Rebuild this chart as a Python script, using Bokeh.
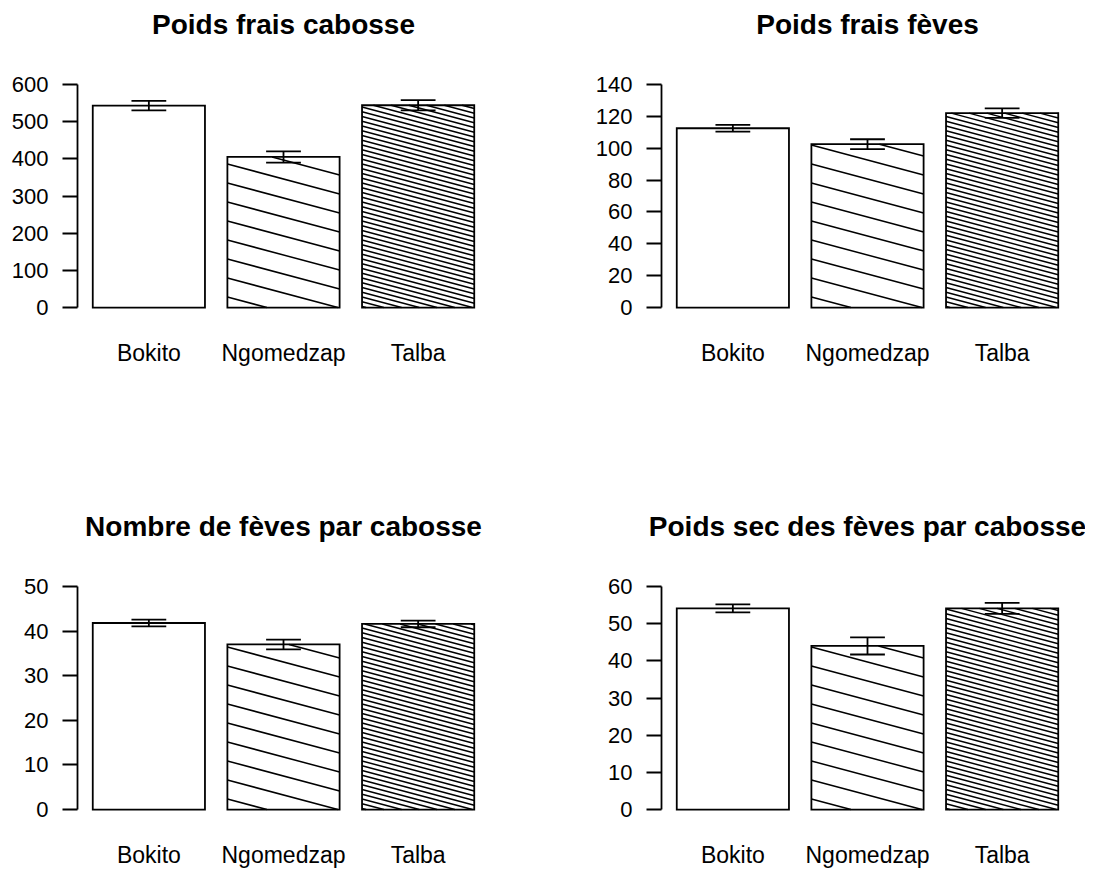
import math
from bokeh.plotting import figure
from bokeh.layouts import column, row
from bokeh.models import Range1d, FixedTicker, Title
from bokeh.embed import file_html
from bokeh.resources import INLINE

# ---------------- data ----------------
categories = ["Bokito", "Ngomedzap", "Talba"]

title_1 = "Poids frais cabosse"
poids_frais_cabosse = [543, 405, 544]
poids_frais_cabosse_se = [13, 15, 14]
ticks_1 = [0, 100, 200, 300, 400, 500, 600]

title_2 = "Poids frais fèves"
poids_frais_feves = [112.5, 102.5, 122.0]
poids_frais_feves_se = [2.1, 3.1, 3.0]
ticks_2 = [0, 20, 40, 60, 80, 100, 120, 140]

title_3 = "Nombre de fèves par cabosse"
nombre_feves = [41.8, 37.0, 41.6]
nombre_feves_se = [0.75, 1.1, 0.75]
ticks_3 = [0, 10, 20, 30, 40, 50]

title_4 = "Poids sec des fèves par cabosse"
poids_sec_feves = [54.1, 44.0, 54.1]
poids_sec_feves_se = [1.1, 2.3, 1.5]
ticks_4 = [0, 10, 20, 30, 40, 50, 60]

# ---------------- style ----------------
FONT = "Liberation Sans"
FRAME_W, FRAME_H = 412, 241
BAR_W, BAR_SPACE = 1.0, 0.2
LW = 1.8
HATCH_SLOPE = math.tan(math.radians(15))   # pixel slope of shading lines
HATCH_SPACING = [None, 19.0, 4.75]          # px between shading lines per bar
HATCH_OFFSET = 10.6                          # px phase above bar base
CAP_HALF = 0.155
SPACER_STANDOFF = 33                         # empty title pushing the real title up


def make_panel(title, values, se, ticks, b_left, b_right, b_top, b_bottom):
    n = len(values)
    xs = [BAR_SPACE + BAR_W / 2 + i * (BAR_W + BAR_SPACE) for i in range(n)]
    lo = BAR_SPACE
    hi = n * (BAR_W + BAR_SPACE)
    pad = 0.04 * (hi - lo)
    x0, x1 = lo - pad, hi + pad
    ymax = ticks[-1]
    y0, y1 = -0.04 * ymax, 1.04 * ymax

    p = figure(frame_width=FRAME_W, frame_height=FRAME_H,
               x_range=Range1d(x0, x1), y_range=Range1d(y0, y1),
               output_backend="svg", toolbar_location=None,
               min_border_left=b_left, min_border_right=b_right,
               min_border_top=b_top, min_border_bottom=b_bottom,
               background_fill_color="white", border_fill_color="white")
    p.outline_line_color = None
    p.xgrid.visible = False
    p.ygrid.visible = False
    p.title.text = ""
    p.title.standoff = 0
    p.title.text_font_size = "1px"

    p.add_layout(Title(text=" ", text_font_size="1px", standoff=SPACER_STANDOFF,
                       text_color="white"), "above")
    p.add_layout(Title(text=title, align="center", vertical_align="bottom", standoff=0,
                       text_font=FONT, text_font_size="28px", text_font_style="bold",
                       text_color="black"), "above")

    lefts = [x - BAR_W / 2 for x in xs]
    rights = [x + BAR_W / 2 for x in xs]
    p.quad(left=lefts, right=rights, bottom=[0] * n, top=values,
           fill_color="white", line_color=None)

    # shading lines computed in pixel space then mapped to data units
    sx = FRAME_W / (x1 - x0)
    sy = FRAME_H / (y1 - y0)
    m = HATCH_SLOPE * sx / sy
    hx0, hy0, hx1, hy1 = [], [], [], []
    for i in range(n):
        sp = HATCH_SPACING[i]
        if sp is None:
            continue
        xl, xr, h = lefts[i], rights[i], values[i]
        off = HATCH_OFFSET % sp
        k = 0
        while True:
            c = (off + k * sp) / sy
            if c - m * (xr - xl) > h:
                break
            xa = max(xl, xl + (c - h) / m)
            xb = min(xr, xl + c / m)
            if xb > xa:
                hx0.append(xa); hy0.append(c - m * (xa - xl))
                hx1.append(xb); hy1.append(c - m * (xb - xl))
            k += 1
    p.segment(x0=hx0, y0=hy0, x1=hx1, y1=hy1, line_color="black", line_width=1.5)

    p.quad(left=lefts, right=rights, bottom=[0] * n, top=values,
           fill_color=None, line_color="black", line_width=LW, line_join="miter")

    # error bars
    up = [v + e for v, e in zip(values, se)]
    dn = [v - e for v, e in zip(values, se)]
    p.segment(x0=xs, y0=dn, x1=xs, y1=up, line_color="black", line_width=LW)
    p.segment(x0=[x - CAP_HALF for x in xs], y0=up, x1=[x + CAP_HALF for x in xs], y1=up,
              line_color="black", line_width=LW)
    p.segment(x0=[x - CAP_HALF for x in xs], y0=dn, x1=[x + CAP_HALF for x in xs], y1=dn,
              line_color="black", line_width=LW)

    # x axis: labels only
    p.xaxis.ticker = FixedTicker(ticks=xs)
    p.xaxis.major_label_overrides = {x: c for x, c in zip(xs, categories)}
    p.xaxis.axis_line_color = None
    p.xaxis.major_tick_line_color = None
    p.xaxis.minor_tick_line_color = None
    p.xaxis.major_tick_out = 0
    p.xaxis.major_tick_in = 0
    p.xaxis.major_label_standoff = 23
    p.xaxis.major_label_text_font = FONT
    p.xaxis.major_label_text_font_size = "23px"
    p.xaxis.major_label_text_color = "black"

    # y axis
    p.yaxis.ticker = FixedTicker(ticks=ticks)
    p.yaxis.bounds = (0, ymax)
    p.yaxis.axis_line_width = LW
    p.yaxis.axis_line_color = "black"
    p.yaxis.major_tick_line_width = LW
    p.yaxis.major_tick_line_color = "black"
    p.yaxis.minor_tick_line_color = None
    p.yaxis.major_tick_out = 15
    p.yaxis.major_tick_in = 0
    p.yaxis.major_label_standoff = 14
    p.yaxis.major_label_text_font = FONT
    p.yaxis.major_label_text_font_size = "22px"
    p.yaxis.major_label_text_color = "black"
    return p


pA = make_panel(title_1, poids_frais_cabosse, poids_frais_cabosse_se, ticks_1, 77, 65, 75, 124)
pB = make_panel(title_2, poids_frais_feves, poids_frais_feves_se, ticks_2, 107, 12, 75, 124)
pC = make_panel(title_3, nombre_feves, nombre_feves_se, ticks_3, 77, 65, 137, 50)
pD = make_panel(title_4, poids_sec_feves, poids_sec_feves_se, ticks_4, 107, 12, 137, 50)

layout = column(row(pA, pB), row(pC, pD))
open("out.html", "w").write(file_html(layout, INLINE))
